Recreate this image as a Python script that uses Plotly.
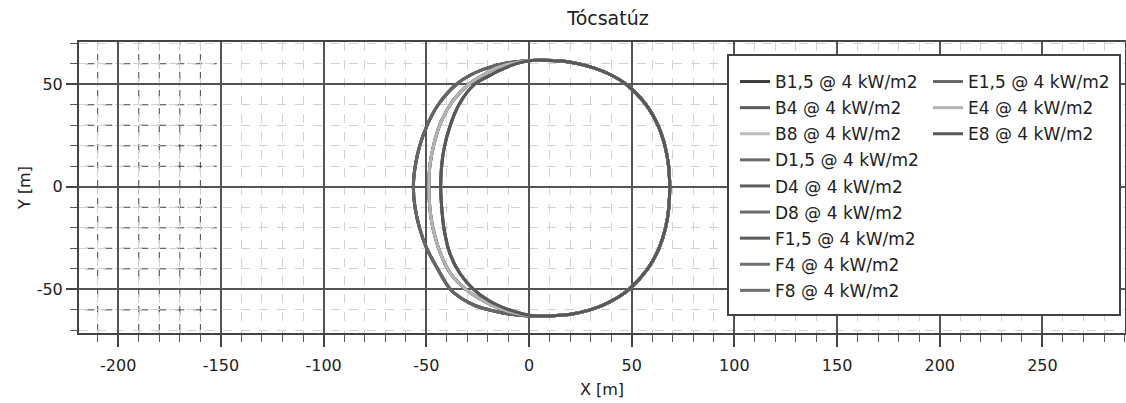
import plotly.graph_objects as go

# ---------------- data ----------------
series_names = ["B1,5 @ 4 kW/m2", "B4 @ 4 kW/m2", "B8 @ 4 kW/m2",
                "D1,5 @ 4 kW/m2", "D4 @ 4 kW/m2", "D8 @ 4 kW/m2",
                "F1,5 @ 4 kW/m2", "F4 @ 4 kW/m2", "F8 @ 4 kW/m2",
                "E1,5 @ 4 kW/m2", "E4 @ 4 kW/m2", "E8 @ 4 kW/m2"]
# which contour each series follows (wind speed 1.5 / 4 / 8 m/s)
series_contour = ["c15", "c4", "c8", "c15", "c4", "c8",
                  "c15", "c4", "c8", "c15", "c4", "c8"]
series_colors = ["#3a3a3a", "#5a5a5a", "#bdbdbd", "#6a6a6a", "#5e5e5e", "#6a6a6a",
                 "#5a5a5a", "#6e6e6e", "#6e6e6e", "#666666", "#b4b4b4", "#585858"]

# downwind (right) half, shared by every contour: bottom -> top
right_x = [6, 13.5, 21, 29.8, 35.5, 41.5, 48.7, 57.8, 63.3, 66.5, 68.1, 68.5,
           68, 66.2, 62.8, 57, 47.3, 39, 31.5, 24, 17, 6]
right_y = [-63.1, -62.8, -62, -60, -58, -55, -50, -40, -30, -20, -10, 0,
           10, 20, 30, 40, 50, 55, 58, 60, 61.2, 61.7]

# upwind (left) halves: top -> bottom
left15_x = [-4, -12.5, -20, -27.5, -35.3, -44.2, -49.6, -53.2, -55.4, -56.3,
            -55.5, -53.3, -49.8, -44.5, -38.3, -32, -26, -17.5, -8, 0]
left15_y = [61.2, 60, 58, 55, 50, 40, 30, 20, 10, 0,
            -10, -20, -30, -40, -50, -55, -58, -60.5, -62.3, -63]

left4_x = [-1, -9, -17, -22.5, -29.3, -37, -42.7, -46.5, -48.3, -48.8,
           -48.3, -46.8, -43.3, -38.4, -30.8, -22.5, -15, -7, 0]
left4_y = [61.5, 60, 57.5, 54.4, 50, 42, 32, 20, 10, 0,
           -10, -20, -32, -42, -50, -55.4, -59, -61.6, -62.8]

left8_x = [1, -7, -14.3, -20.6, -26.5, -33.8, -38.6, -41.5, -42.7, -43,
           -42.5, -41.3, -38.5, -33.6, -27, -19.3, -11, -3, 2]
left8_y = [61.6, 59.8, 56.8, 53.5, 50, 40.6, 29.2, 17.8, 8, 0,
           -10, -21, -32.6, -42.3, -50, -55.7, -59.5, -62, -62.9]

contours = {
    "c15": (right_x + left15_x + right_x[:1], right_y + left15_y + right_y[:1]),
    "c4": (right_x + left4_x + right_x[:1], right_y + left4_y + right_y[:1]),
    "c8": (right_x + left8_x + right_x[:1], right_y + left8_y + right_y[:1]),
}

x_range = [-219.1, 290.2]
y_range = [-71.3, 70.6]
x_tickvals = [-200, -150, -100, -50, 0, 50, 100, 150, 200, 250]
x_ticktext = ["-200", "-150", "-100", "-50", "0", "50", "100", "150", "200", "250"]
y_tickvals = [-50, 0, 50]
y_ticktext = ["-50", "0", "50"]
title_text = "Tócsatúz"
x_title = "X [m]"
y_title = "Y [m]"

FONT = "DejaVu Sans"
TXT = "#222222"

# plot area in pixels (for placing the legend box)
PL, PR, PT, PB = 79, 1125, 42, 333
PW, PH = PR - PL, PB - PT


def px_x(p):
    return (p - PL) / PW


def px_y(p):
    return (PB - p) / PH


fig = go.Figure()
for i, name in enumerate(series_names):
    cx, cy = contours[series_contour[i]]
    fig.add_trace(go.Scatter(
        x=cx, y=cy, mode="lines", name=name, legendgroup=name,
        line=dict(color=series_colors[i], width=3, shape="spline", smoothing=1.0),
        legend="legend" if i < 9 else "legend2",
    ))

# dark dashed minor grid portion visible at the far left of the reference
shapes = []
for vx in [-210, -190, -180, -170, -160]:
    shapes.append(dict(type="line", xref="x", yref="y", x0=vx, x1=vx, y0=y_range[0], y1=y_range[1],
                       line=dict(color="#444444", width=1, dash="dash"), layer="below"))
for hy in [60, 40, 30, 20, 10, -10, -20, -30, -40, -60]:
    shapes.append(dict(type="line", xref="x", yref="y", x0=-216, x1=-152, y0=hy, y1=hy,
                       line=dict(color="#444444", width=1, dash="dash"), layer="below"))
# legend frame
shapes.append(dict(type="rect", xref="paper", yref="paper",
                   x0=px_x(728), x1=px_x(1120), y0=px_y(315), y1=px_y(55),
                   fillcolor="white", line=dict(color="#444444", width=2), layer="above"))

axis_common = dict(
    showline=True, mirror=True, linecolor="#444444", linewidth=2,
    showgrid=True, gridcolor="#555555", gridwidth=1.5,
    zeroline=False, tickmode="array",
    ticks="outside", tickwidth=1.5, tickcolor="#444444",
    tickfont=dict(family=FONT, size=16, color=TXT),
    automargin=False,
)
minor_common = dict(tickmode="linear", dtick=10, tick0=0, showgrid=True, gridcolor="#d2d2d2",
                    gridwidth=1, griddash="dash", ticks="outside", ticklen=7,
                    tickcolor="#555555", tickwidth=1)

legend_common = dict(xanchor="left", yanchor="top", bgcolor="rgba(0,0,0,0)", borderwidth=0,
                     font=dict(family=FONT, size=17, color=TXT), tracegroupgap=1,
                     traceorder="grouped")

fig.update_layout(
    template="none",
    width=1126, height=403,
    margin=dict(l=PL, r=1126 - PR, t=PT, b=403 - PB, autoexpand=False),
    paper_bgcolor="white", plot_bgcolor="white",
    font=dict(family=FONT, size=16, color=TXT),
    title=dict(text=title_text, x=608 / 1126, xref="container", xanchor="center",
               y=1 - 18 / 403, yref="container", yanchor="middle",
               font=dict(family=FONT, size=19, color=TXT)),
    xaxis=dict(range=x_range, tickvals=x_tickvals, ticktext=x_ticktext, ticklen=12,
               ticklabelstandoff=5, minor=minor_common,
               title=dict(text=x_title, standoff=10, font=dict(family=FONT, size=16, color=TXT)),
               **axis_common),
    yaxis=dict(range=y_range, tickvals=y_tickvals, ticktext=y_ticktext, ticklen=11,
               minor=minor_common,
               title=dict(text=y_title, standoff=2, font=dict(family=FONT, size=16, color=TXT)),
               **axis_common),
    shapes=shapes,
    showlegend=True,
    legend=dict(x=px_x(735), y=px_y(64), **legend_common),
    legend2=dict(x=px_x(928), y=px_y(64), **legend_common),
)

fig.write_html("out.html", config={"displayModeBar": False},
               post_script="document.body.style.margin='0px';")
